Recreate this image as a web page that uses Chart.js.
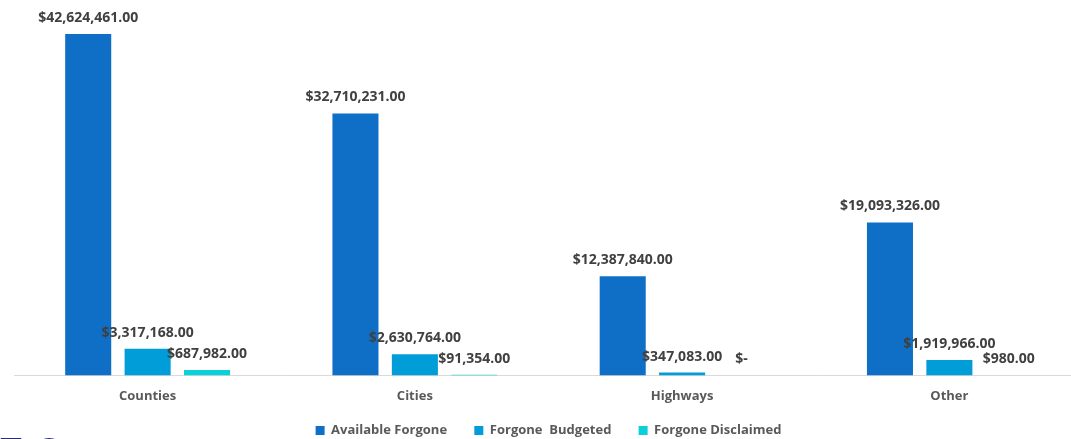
<!DOCTYPE html>
<html>
<head>
<meta charset="utf-8">
<script src="https://cdn.jsdelivr.net/npm/chart.js@4/dist/chart.umd.min.js"></script>
<style>
  html, body { margin: 0; padding: 0; background: #fff; overflow: hidden; }
  #wrap { position: relative; width: 1071px; height: 439px; overflow: hidden; }
  #chart { position: absolute; left: 0; top: 0; }
  #logo {
    position: absolute; left: 0; top: 431px;
    font: bold 38px "Open Sans", sans-serif; color: #2b2c6c;
    letter-spacing: 12px; line-height: 1;
  }
</style>
</head>
<body>
<div id="wrap">
  <canvas id="chart" width="1083" height="439"></canvas>
  <div id="logo">TO</div>
</div>
<script>
const categories = ["Counties", "Cities", "Highways", "Other"];
const availableForgone = [42624461, 32710231, 12387840, 19093326];
const forgoneBudgeted = [3317168, 2630764, 347083, 1919966];
const forgoneDisclaimed = [687982, 91354, 0, 980];

const seriesNames = ["Available Forgone", "Forgone  Budgeted", "Forgone Disclaimed"];
const seriesColors = ["#0f6fc6", "#009dd9", "#0bd0d9"];

function money(v) {
  if (v === 0) return "$-";
  return "$" + v.toLocaleString("en-US", { minimumFractionDigits: 2, maximumFractionDigits: 2 });
}

// draws the value above each bar
const barLabels = {
  id: "barLabels",
  afterDatasetsDraw(chart) {
    const ctx = chart.ctx;
    ctx.save();
    ctx.font = "bold 14px 'Open Sans', sans-serif";
    ctx.fillStyle = "#404040";
    ctx.textAlign = "center";
    ctx.textBaseline = "middle";
    chart.data.datasets.forEach((ds, i) => {
      const meta = chart.getDatasetMeta(i);
      meta.data.forEach((bar, j) => {
        ctx.fillText(money(ds.data[j]), bar.x, bar.y - 16);
      });
    });
    ctx.restore();
  }
};

const ctx = document.getElementById("chart").getContext("2d");
new Chart(ctx, {
  type: "bar",
  data: {
    labels: categories,
    datasets: [availableForgone, forgoneBudgeted, forgoneDisclaimed].map((d, i) => ({
      label: seriesNames[i],
      data: d,
      backgroundColor: seriesColors[i],
      categoryPercentage: 0.667,
      barPercentage: 0.775
    }))
  },
  options: {
    responsive: false,
    animation: false,
    layout: { padding: { left: 14, right: 0, top: 15, bottom: -8 } },
    scales: {
      x: {
        grid: { display: false, drawTicks: false },
        border: { color: "#d9d9d9", width: 1 },
        ticks: {
          color: "#595959",
          font: { family: "'Open Sans', sans-serif", size: 13, weight: "bold" },
          padding: 13
        }
      },
      y: {
        display: false,
        min: 0,
        max: 45000000
      }
    },
    plugins: {
      legend: {
        position: "bottom",
        labels: {
          boxWidth: 9,
          boxHeight: 9,
          padding: 7,
          color: "#595959",
          font: { family: "'Open Sans', sans-serif", size: 13, weight: "bold" },
          generateLabels(chart) {
            // a little extra room between the items
            const items = Chart.defaults.plugins.legend.labels.generateLabels(chart);
            items.forEach((it, i) => { if (i < items.length - 1) it.text += "      "; });
            return items;
          }
        }
      },
      tooltip: { enabled: false }
    }
  },
  plugins: [barLabels]
});
</script>
</body>
</html>
